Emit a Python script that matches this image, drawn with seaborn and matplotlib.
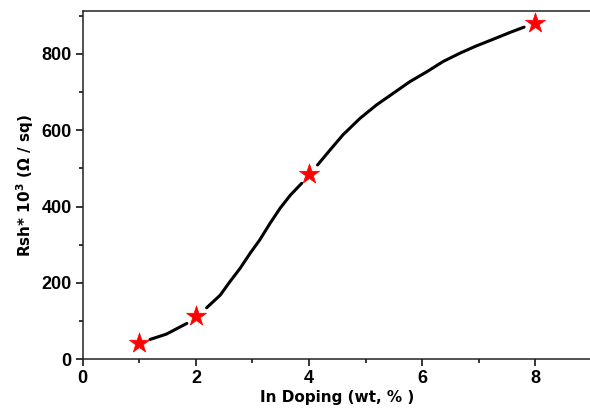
import numpy as np
import pandas as pd
import seaborn as sns
import matplotlib.pyplot as plt
from matplotlib.ticker import MultipleLocator

# measured points (In doping wt%, Rsh*10^3)
doping = [1, 2, 4, 8]
rsh = [44, 113, 485, 882]

# smooth guide curve, split in pieces (gaps around the symbols)
curve_x = [1.19, 1.48, 1.84,
           2.19, 2.43, 2.60, 2.78, 2.96, 3.13, 3.31, 3.49, 3.67, 3.87,
           4.15, 4.37, 4.60, 4.90, 5.19, 5.49, 5.78, 6.08, 6.37, 6.67, 6.96, 7.25, 7.55, 7.80]
curve_y = [52, 66, 94,
           135, 168, 203, 238, 278, 313, 356, 396, 430, 461,
           509, 548, 588, 631, 666, 697, 727, 753, 780, 802, 821, 838, 856, 870]
curve_seg = [0] * 3 + [1] * 10 + [2] * 14

sns.set_style("ticks")
plt.rcParams["font.family"] = ["DejaVu Sans"]
plt.rcParams["text.color"] = "black"
plt.rcParams["axes.labelcolor"] = "black"
plt.rcParams["xtick.color"] = "black"
plt.rcParams["ytick.color"] = "black"

fig = plt.figure(figsize=(5.9, 4.08), dpi=100)
ax = fig.add_axes([82.7 / 590, 1 - 359.3 / 408, (592 - 82.7) / 590, (359.3 - 10.7) / 408])

curve = pd.DataFrame({"x": curve_x, "y": curve_y, "seg": curve_seg})
sns.lineplot(data=curve, x="x", y="y", units="seg", estimator=None,
             color="black", linewidth=2.2, ax=ax, sort=False)

pts = pd.DataFrame({"x": doping, "y": rsh})
sns.scatterplot(data=pts, x="x", y="y", marker="*", s=230, color="red",
                edgecolor="red", linewidth=0.5, ax=ax, zorder=5)

ax.set_xlim(0, 9)
ax.set_ylim(0, 913)
ax.xaxis.set_major_locator(MultipleLocator(2))
ax.xaxis.set_minor_locator(MultipleLocator(1))
ax.yaxis.set_major_locator(MultipleLocator(200))
ax.yaxis.set_minor_locator(MultipleLocator(100))
ax.tick_params(which="major", direction="out", length=5, width=1.1, pad=3)
ax.tick_params(which="minor", direction="out", length=3, width=1.1)
for lab in ax.get_xticklabels() + ax.get_yticklabels():
    lab.set_fontfamily("Liberation Sans")
    lab.set_fontweight("bold")
    lab.set_fontsize(13)
for s in ax.spines.values():
    s.set_visible(True)
    s.set_linewidth(1.1)
    s.set_color("#222222")

ax.set_xlabel("In Doping (wt, % )", fontsize=11, fontweight="bold", labelpad=2)
ax.set_ylabel(r"Rsh* 10$^\mathbf{3}$ (Ω / sq)", fontsize=11, fontweight="bold", labelpad=4)

fig.savefig("out.png", dpi=100)
